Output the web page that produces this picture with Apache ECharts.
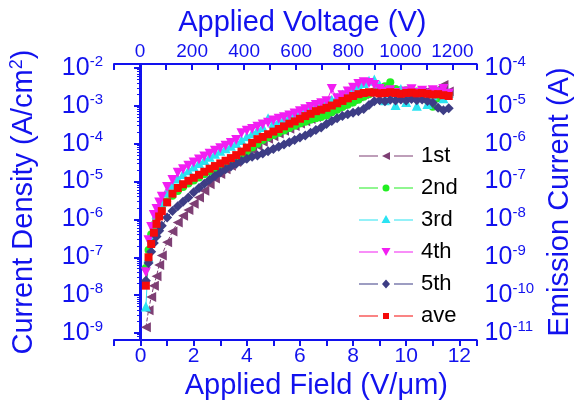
<!DOCTYPE html>
<html><head><meta charset="utf-8">
<script src="https://cdn.jsdelivr.net/npm/echarts@6/dist/echarts.min.js"></script>
<style>html,body{margin:0;padding:0;background:#fff}#c{width:582px;height:407px}</style>
</head><body><div id="c"></div>
<script>
// Applied field (V/um) sample positions
const fields = [0.2,0.3,0.4,0.5,0.6,0.7,0.8,
  1.0,1.2,1.4,1.6,1.8,2.0,2.2,2.4,2.6,2.8,
  3.0,3.2,3.4,3.6,3.8,4.0,4.2,4.4,4.6,4.8,
  5.0,5.2,5.4,5.6,5.8,6.0,6.2,6.4,6.6,6.8,
  7.0,7.2,7.4,7.6,7.8,8.0,8.2,8.4,8.6,8.8,
  9.0,9.2,9.4,9.6,9.8,10.0,10.2,10.4,10.6,10.8,
  11.0,11.2,11.4,11.6];
// Current density (A/cm^2)
const run1 = [1.41e-9,4.0e-9,8.9e-9,1.78e-8,3.16e-8,6.3e-8,1.12e-7,
  2.5e-7,4.8e-7,8.3e-7,1.26e-6,1.78e-6,2.6e-6,3.8e-6,5.75e-6,8.5e-6,1.2e-5,
  1.58e-5,2.1e-5,2.6e-5,3.3e-5,4.2e-5,5.4e-5,6.9e-5,8.9e-5,1.12e-4,1.35e-4,
  1.58e-4,1.86e-4,2.2e-4,2.5e-4,2.95e-4,3.4e-4,3.9e-4,4.5e-4,5.1e-4,5.9e-4,
  6.8e-4,7.9e-4,9.3e-4,1.1e-3,1.29e-3,1.51e-3,1.78e-3,2.04e-3,2.3e-3,2.5e-3,
  2.4e-3,2.6e-3,2.35e-3,2.5e-3,2.2e-3,2.4e-3,2.1e-3,1.9e-3,2.24e-3,2.5e-3,
  2.2e-3,2.8e-3,3.55e-3,2.4e-3];
const run2 = [5.2e-8,1.55e-7,4.0e-7,7.1e-7,1.05e-6,1.48e-6,1.9e-6,
  3.0e-6,4.2e-6,5.6e-6,7.2e-6,8.9e-6,1.07e-5,1.29e-5,1.55e-5,1.86e-5,2.2e-5,
  2.6e-5,3.0e-5,3.55e-5,4.2e-5,5.0e-5,6.3e-5,7.9e-5,1.0e-4,1.26e-4,1.48e-4,
  1.7e-4,1.95e-4,2.24e-4,2.6e-4,3.0e-4,3.4e-4,3.8e-4,4.3e-4,4.7e-4,5.1e-4,
  5.6e-4,6.8e-4,7.9e-4,9.3e-4,1.07e-3,1.23e-3,1.45e-3,1.74e-3,2.04e-3,2.4e-3,
  2.75e-3,3.3e-3,4.2e-3,2.8e-3,2.3e-3,2.6e-3,2.0e-3,2.4e-3,1.78e-3,1.41e-3,
  9.5e-4,1.58e-3,2.0e-3,1.82e-3];
const run3 = [5.0e-9,1.0e-7,3.55e-7,7.9e-7,1.41e-6,2.1e-6,2.95e-6,
  5.2e-6,8.3e-6,1.2e-5,1.58e-5,2.0e-5,2.5e-5,3.1e-5,3.7e-5,4.5e-5,5.4e-5,
  6.5e-5,7.6e-5,8.9e-5,1.05e-4,1.26e-4,1.58e-4,1.9e-4,2.3e-4,2.75e-4,4.7e-4,
  3.5e-4,4.0e-4,4.5e-4,5.1e-4,5.9e-4,6.6e-4,7.6e-4,8.7e-4,9.8e-4,1.1e-3,
  1.26e-3,1.45e-3,1.66e-3,2.0e-3,2.4e-3,2.8e-3,3.4e-3,4.0e-3,4.6e-3,5.0e-3,
  3.55e-3,1.41e-3,2.5e-3,1.05e-3,2.8e-3,1.26e-3,2.4e-3,1.0e-3,2.0e-3,1.12e-3,
  1.9e-3,2.4e-3,1.58e-3,2.2e-3];
const run4 = [4.0e-8,2.8e-7,6.3e-7,1.3e-6,1.9e-6,2.8e-6,4.0e-6,
  7.2e-6,1.1e-5,1.7e-5,2.1e-5,2.6e-5,3.2e-5,3.8e-5,4.6e-5,5.4e-5,6.5e-5,
  7.6e-5,8.9e-5,1.05e-4,1.26e-4,1.9e-4,2.2e-4,2.45e-4,2.8e-4,3.2e-4,3.6e-4,
  4.1e-4,4.6e-4,5.0e-4,5.6e-4,6.3e-4,7.2e-4,8.1e-4,9.3e-4,1.05e-3,1.17e-3,
  1.32e-3,2.8e-3,1.58e-3,1.9e-3,2.4e-3,3.0e-3,3.8e-3,4.2e-3,4.0e-3,3.55e-3,
  2.8e-3,2.4e-3,2.6e-3,2.2e-3,1.9e-3,2.4e-3,2.75e-3,2.2e-3,2.5e-3,2.1e-3,
  2.6e-3,2.3e-3,2.8e-3,2.1e-3];
const run5 = [2.4e-8,7.1e-8,1.41e-7,2.4e-7,3.55e-7,5.0e-7,6.8e-7,
  1.12e-6,1.66e-6,2.24e-6,2.95e-6,3.8e-6,5.2e-6,6.8e-6,8.7e-6,1.12e-5,1.41e-5,
  1.74e-5,2.1e-5,2.5e-5,2.95e-5,3.5e-5,4.0e-5,4.5e-5,4.9e-5,5.5e-5,6.3e-5,
  7.2e-5,8.3e-5,9.5e-5,1.1e-4,1.26e-4,1.45e-4,1.66e-4,1.95e-4,2.3e-4,2.7e-4,
  3.3e-4,4.0e-4,4.7e-4,5.4e-4,6.0e-4,6.6e-4,7.2e-4,8.3e-4,1.05e-3,1.32e-3,
  1.41e-3,1.32e-3,1.45e-3,1.38e-3,1.48e-3,1.38e-3,1.51e-3,1.41e-3,1.48e-3,1.35e-3,
  1.2e-3,8.9e-4,7.6e-4,8.7e-4];
const runAve = [1.78e-8,1.0e-7,2.24e-7,4.47e-7,7.6e-7,1.2e-6,1.66e-6,
  2.82e-6,4.79e-6,6.76e-6,8.5e-6,1.05e-5,1.26e-5,1.51e-5,1.82e-5,2.19e-5,2.57e-5,
  3.02e-5,3.55e-5,4.17e-5,5.0e-5,6.2e-5,7.9e-5,1.05e-4,1.32e-4,1.51e-4,1.78e-4,
  2.09e-4,2.45e-4,2.88e-4,3.39e-4,3.89e-4,4.57e-4,5.37e-4,6.17e-4,7.24e-4,7.94e-4,
  8.9e-4,1.02e-3,1.17e-3,1.35e-3,1.58e-3,1.82e-3,2.04e-3,2.19e-3,2.29e-3,2.24e-3,
  2.14e-3,2.19e-3,2.29e-3,2.19e-3,2.09e-3,2.19e-3,2.24e-3,2.14e-3,2.19e-3,2.09e-3,
  2.0e-3,2.04e-3,1.91e-3,1.82e-3];
const seriesNames = ['1st','2nd','3rd','4th','5th','ave'];
const fieldTicks = [0,2,4,6,8,10,12];
const voltageTicks = [0,200,400,600,800,1000,1200];

const BLUE = '#1212EE';
const FONT = 'Liberation Sans, Arial, sans-serif';
const runs = [run1, run2, run3, run4, run5, runAve];
const colors = ['#7E3F74', '#22EE22', '#2BE3F2', '#F21EF2', '#3D3D85', '#F50A0A'];
const symbols = ['path://M10,0 L10,10 L0,5 Z', 'circle', 'triangle',
  'path://M0,0 L10,0 L5,10 Z', 'diamond', 'rect'];
const sizes = [10, 8, 10, 10, 10, 8];

// legend icons: thin line, gap, marker, gap, thin line (box 54 x 10)
const seg = 'M0,4.4 L19,4.4 L19,5.6 L0,5.6 Z M35,4.4 L54,4.4 L54,5.6 L35,5.6 Z ';
const markerPaths = [
  'M31,1 L31,9 L23,5 Z',
  'M27,1.5 A3.5,3.5 0 1,1 27,8.5 A3.5,3.5 0 1,1 27,1.5 Z',
  'M27,0 L31.5,8 L22.5,8 Z',
  'M22.5,1 L31.5,1 L27,9 Z',
  'M27,0.5 L31,5 L27,9.5 L23,5 Z',
  'M24,2 L30,2 L30,8 L24,8 Z'
];
const legendIcons = markerPaths.map(p => 'path://M0,0 L0.01,0 L0.01,0.01 Z M54,10 L53.99,10 L53.99,9.99 Z ' + seg + p);

function supLabel(v) {
  const l = Math.log10(v);
  const e = Math.round(l);
  if (Math.abs(l - e) > 1e-6) return '';
  return '{b|10}{s|' + e + '}';
}
const richY = {
  b: { fontSize: 25, color: BLUE, fontFamily: FONT, lineHeight: 28 },
  s: { fontSize: 15, color: BLUE, fontFamily: FONT, lineHeight: 15, verticalAlign: 'top' }
};
const axisLine = { show: true, lineStyle: { color: BLUE, width: 2 } };

const chart = echarts.init(document.getElementById('c'), null, { renderer: 'canvas' });
chart.setOption({
  animation: false,
  backgroundColor: '#fff',
  grid: { left: 113, top: 64, width: 373, height: 276, containLabel: false },
  legend: {
    data: seriesNames.map((n, k) => ({ name: n, icon: legendIcons[k] })),
    orient: 'vertical',
    left: 354, top: 140,
    itemWidth: 54, itemHeight: 10, itemGap: 10,
    textStyle: { fontSize: 22, color: '#000', fontFamily: FONT, lineHeight: 20, padding: [0, 0, 0, 3] }
  },
  xAxis: [{
    type: 'value', position: 'bottom', min: -1, max: 12.65, interval: 1,
    axisLine: axisLine,
    axisTick: { show: true, inside: false, length: 6, lineStyle: { color: BLUE, width: 2 } },
    splitLine: { show: false },
    axisLabel: {
      margin: 6, fontSize: 21, color: BLUE, fontFamily: FONT,
      showMinLabel: true, showMaxLabel: true,
      formatter: v => fieldTicks.indexOf(Math.round(v * 1000) / 1000) >= 0 ? String(Math.round(v)) : ''
    },
    name: 'Applied Field (V/\u03bcm)', nameLocation: 'middle', nameGap: 31,
    nameTextStyle: { fontSize: 29, color: BLUE, fontFamily: FONT, padding: [0, 0, 0, 42] }
  }, {
    type: 'value', position: 'top', min: -100, max: 1293, interval: 100,
    axisLine: axisLine,
    axisTick: { show: true, inside: true, length: 6, lineStyle: { color: BLUE, width: 2 } },
    splitLine: { show: false },
    axisLabel: {
      margin: 3, fontSize: 19, color: BLUE, fontFamily: FONT,
      formatter: v => voltageTicks.indexOf(Math.round(v)) >= 0 && Math.abs(v - Math.round(v)) < 1e-6 ? String(Math.round(v)) : ''
    },
    name: 'Applied Voltage (V)', nameLocation: 'middle', nameGap: 27,
    nameTextStyle: { fontSize: 29, color: BLUE, fontFamily: FONT, padding: [0, 0, 0, 14] }
  }],
  yAxis: [{
    type: 'log', logBase: 10, position: 'left', min: 6.53e-10, max: 1.276e-2,
    axisLine: axisLine,
    axisTick: { show: true, inside: false, length: 6, lineStyle: { color: BLUE, width: 2 } },
    minorTick: { show: true, splitNumber: 9, length: 3, lineStyle: { color: BLUE, width: 1 } },
    splitLine: { show: false },
    axisLabel: { margin: 11, formatter: supLabel, rich: richY },
    name: '{a|Current Density (A/cm}{s|2}{a|)}', nameLocation: 'middle', nameGap: 74, nameRotate: 90,
    nameTextStyle: {
      rich: {
        a: { fontSize: 29, color: BLUE, fontFamily: FONT, lineHeight: 32 },
        s: { fontSize: 18, color: BLUE, fontFamily: FONT, lineHeight: 18, verticalAlign: 'top' }
      }
    }
  }, {
    type: 'log', logBase: 10, position: 'right', min: 6.53e-12, max: 1.276e-4,
    axisLine: axisLine,
    axisTick: { show: true, inside: true, length: 6, lineStyle: { color: BLUE, width: 2 } },
    minorTick: { show: true, splitNumber: 9, length: 3, lineStyle: { color: BLUE, width: 1 } },
    splitLine: { show: false },
    axisLabel: { margin: 8, formatter: supLabel, rich: richY },
    name: 'Emission Current (A)', nameLocation: 'middle', nameGap: 62, nameRotate: 90,
    nameTextStyle: { fontSize: 29, color: BLUE, fontFamily: FONT }
  }],
  series: seriesNames.map((n, k) => ({
    name: n, type: 'line', xAxisIndex: 0, yAxisIndex: 0,
    data: fields.map((f, i) => [f, runs[k][i]]),
    symbol: symbols[k], symbolSize: sizes[k], showSymbol: true, showAllSymbol: true,
    itemStyle: { color: colors[k] },
    lineStyle: { color: colors[k], width: 1, type: k === 0 ? 'dashed' : 'solid' }
  }))
});
</script></body></html>
